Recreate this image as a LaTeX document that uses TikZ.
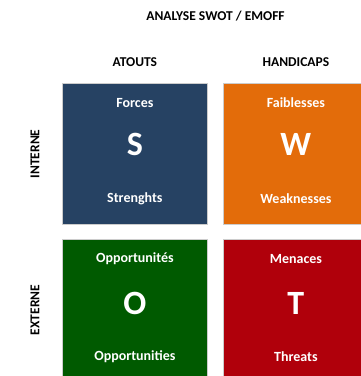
\documentclass[tikz,border=0pt]{standalone}
\usepackage{fontspec}
\setmainfont{Carlito}[BoldFont={Carlito Bold}]
\usetikzlibrary{positioning}
\definecolor{swotblue}{HTML}{264263}
\definecolor{swotorange}{HTML}{E36C0A}
\definecolor{swotgreen}{HTML}{005A00}
\definecolor{swotred}{HTML}{B0000B}

\begin{document}
\begin{tikzpicture}[x=1pt,y=-1pt,
    quad/.style={draw=black!20,line width=0.8pt,minimum width=145pt,minimum height=141pt,inner sep=0pt,anchor=north west},
    head/.style={font=\bfseries\fontsize{13.5}{15}\selectfont},
    word/.style={text=white,font=\bfseries\fontsize{14}{16}\selectfont},
    letter/.style={text=white,font=\bfseries\fontsize{34}{36}\selectfont}]
    \fill[white] (0,0) rectangle (360,376);
    \useasboundingbox (0,0) rectangle (360,376);
    % the four quadrants
    \node[quad,fill=swotblue] (S) at (62,83) {};
    \node[quad,fill=swotorange] (W) at (223,83) {};
    \node[quad,fill=swotgreen] (O) at (62,239) {};
    \node[quad,fill=swotred] (T) at (223,239) {};
    % headings
    \node[head] (title) at (215.5,16) {ANALYSE SWOT / EMOFF};
    \node[head,above=13pt of S] (atouts) {ATOUTS};
    \node[head,above=13pt of W] (handicaps) {HANDICAPS};
    \node[head,rotate=90] (interne) at ([xshift=-27pt]S.west) {INTERNE};
    \node[head,rotate=90] (externe) at ([xshift=-27pt]O.west) {EXTERNE};
    % texts inside
    \node[word] (s-fr) at ([yshift=-20pt]S.north) {Forces};
    \node[letter] (s-l) at ([yshift=9pt]S.center) {S};
    \node[word] (s-en) at ([yshift=26pt]S.south) {Strenghts};
    \node[word] (w-fr) at ([yshift=-20pt]W.north) {Faiblesses};
    \node[letter] (w-l) at ([yshift=9pt]W.center) {W};
    \node[word] (w-en) at ([yshift=26pt]W.south) {Weaknesses};
    \node[word] (o-fr) at ([yshift=-20pt]O.north) {Opportunités};
    \node[letter] (o-l) at ([yshift=6pt]O.center) {O};
    \node[word] (o-en) at ([yshift=24pt]O.south) {Opportunities};
    \node[word] (t-fr) at ([yshift=-20pt]T.north) {Menaces};
    \node[letter] (t-l) at ([yshift=6pt]T.center) {T};
    \node[word] (t-en) at ([yshift=24pt]T.south) {Threats};
\end{tikzpicture}
\end{document}
